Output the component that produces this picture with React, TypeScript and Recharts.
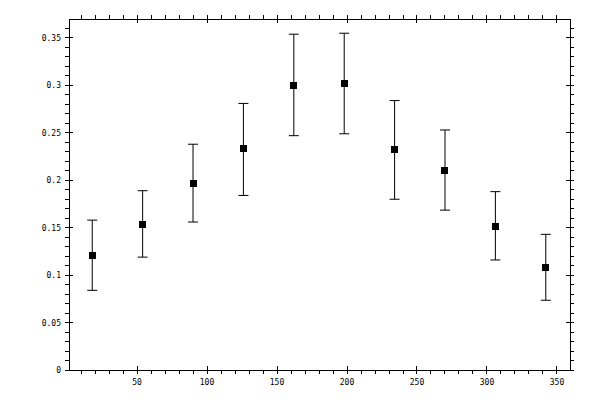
import { ScatterChart, Scatter, XAxis, YAxis, ZAxis, ErrorBar } from 'recharts';

// measured points (x, value, lower end of bar, upper end of bar)
const xs = [18, 54, 90, 126, 162, 198, 234, 270, 306, 342];
const ys = [0.121, 0.153, 0.197, 0.233, 0.3, 0.3015, 0.232, 0.2105, 0.151, 0.108];
const lows = [0.084, 0.119, 0.156, 0.184, 0.247, 0.249, 0.18, 0.1685, 0.116, 0.0735];
const highs = [0.158, 0.189, 0.238, 0.281, 0.354, 0.355, 0.284, 0.253, 0.188, 0.143];

const xTicks = [10, 20, 30, 40, 50, 60, 70, 80, 90, 100, 110, 120, 130, 140, 150, 160, 170, 180, 190, 200, 210, 220, 230, 240, 250, 260, 270, 280, 290, 300, 310, 320, 330, 340, 350];
const xLabels = [50, 100, 150, 200, 250, 300, 350];
const yTicks = [0, 0.01, 0.02, 0.03, 0.04, 0.05, 0.06, 0.07, 0.08, 0.09, 0.1, 0.11, 0.12, 0.13, 0.14, 0.15, 0.16, 0.17, 0.18, 0.19, 0.2, 0.21, 0.22, 0.23, 0.24, 0.25, 0.26, 0.27, 0.28, 0.29, 0.3, 0.31, 0.32, 0.33, 0.34, 0.35, 0.36];
const yLabels = ['0', '0.05', '0.1', '0.15', '0.2', '0.25', '0.3', '0.35'];

const data = xs.map((x, i) => ({ x, y: ys[i], err: [ys[i] - lows[i], highs[i] - ys[i]] }));

const font = { fontFamily: '"DejaVu Sans Mono", monospace', fontSize: 8, fill: '#000' };
const isYMajor = (v: number) => Math.round(v * 100) % 5 === 0;

function BottomTick({ x, y, payload }: any) {
  const major = xLabels.includes(payload.value);
  return (
    <g>
      <line x1={x} x2={x} y1={major ? y - 4 : y} y2={y + 4} stroke="#000" shapeRendering="crispEdges" />
      {major && (
        <text x={x} y={y + 15} textAnchor="middle" {...font}>
          {payload.value}
        </text>
      )}
    </g>
  );
}

function TopTick({ x, y, payload }: any) {
  const major = xLabels.includes(payload.value);
  return <line x1={x} x2={x} y1={y - 4} y2={major ? y + 4 : y} stroke="#000" shapeRendering="crispEdges" />;
}

function LeftTick({ x, y, payload }: any) {
  const major = isYMajor(payload.value);
  const label = yLabels[Math.round(payload.value * 20)];
  return (
    <g>
      <line x1={x - 4} x2={major ? x + 4 : x} y1={y} y2={y} stroke="#000" shapeRendering="crispEdges" />
      {major && (
        <text x={x - 8} y={y + 3} textAnchor="end" {...font}>
          {label}
        </text>
      )}
    </g>
  );
}

function RightTick({ x, y, payload }: any) {
  const major = isYMajor(payload.value);
  return <line x1={major ? x - 4 : x} x2={x + 4} y1={y} y2={y} stroke="#000" shapeRendering="crispEdges" />;
}

function SquareDot({ cx, cy }: any) {
  return <rect x={cx - 3.5} y={cy - 3.5} width={7} height={7} fill="#000" shapeRendering="crispEdges" />;
}

export default function App() {
  const axisLine = { stroke: '#000', shapeRendering: 'crispEdges' } as any;
  return (
    <div style={{ position: 'absolute', left: 0, top: 0, background: '#fff' }}>
      <ScatterChart width={600} height={400} margin={{ top: 0, right: 0, bottom: 0, left: 0 }}>
        <XAxis
          xAxisId={0}
          type="number"
          dataKey="x"
          domain={[1.4, 359.3]}
          ticks={xTicks}
          interval={0}
          height={30}
          tickSize={0}
          tickMargin={0}
          tickLine={false}
          axisLine={axisLine}
          tick={BottomTick}
          allowDataOverflow
        />
        <XAxis
          xAxisId="top"
          orientation="top"
          type="number"
          dataKey="x"
          domain={[1.4, 359.3]}
          ticks={xTicks}
          interval={0}
          height={19}
          tickSize={0}
          tickMargin={0}
          tickLine={false}
          axisLine={axisLine}
          tick={TopTick}
          allowDataOverflow
        />
        <YAxis
          yAxisId={0}
          type="number"
          dataKey="y"
          domain={[0, 0.37]}
          ticks={yTicks}
          interval={0}
          width={69}
          tickSize={0}
          tickMargin={0}
          tickLine={false}
          axisLine={axisLine}
          tick={LeftTick}
          allowDataOverflow
        />
        <YAxis
          yAxisId="right"
          orientation="right"
          type="number"
          dataKey="y"
          domain={[0, 0.37]}
          ticks={yTicks}
          interval={0}
          width={30}
          tickSize={0}
          tickMargin={0}
          tickLine={false}
          axisLine={axisLine}
          tick={RightTick}
          allowDataOverflow
        />
        <ZAxis range={[49, 49]} />
        <Scatter data={data} xAxisId={0} yAxisId={0} shape={SquareDot} isAnimationActive={false}>
          <ErrorBar dataKey="err" direction="y" width={5} stroke="#000" strokeWidth={1} isAnimationActive={false} />
        </Scatter>
      </ScatterChart>
    </div>
  );
}
